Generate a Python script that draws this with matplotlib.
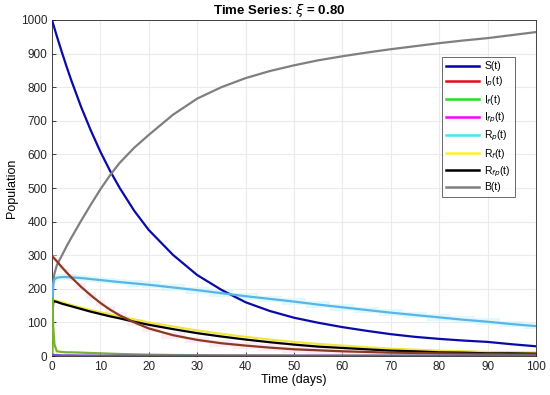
import matplotlib
matplotlib.use("Agg")
import matplotlib.pyplot as plt
from matplotlib.lines import Line2D

plt.rcParams['font.family'] = ['Liberation Sans', 'DejaVu Sans']

t = [0, 0.1, 0.25, 0.5, 1, 2, 3, 4, 6, 8, 10, 12, 14, 17, 20, 25, 30, 35, 40,
     45, 50, 55, 60, 65, 70, 75, 80, 85, 90, 95, 100]

S = [1000, 995, 988, 976, 952, 906, 862, 820, 742, 672, 608, 551, 500, 432, 375,
     301, 241, 197, 160, 134, 114, 99, 86, 75, 65, 57, 51, 46, 42, 35, 29]
I_p = [298, 296, 294, 290, 282, 265, 249, 234, 206, 181, 158, 138, 121, 100, 82,
       62, 48, 38, 31, 25, 20, 17, 14, 12, 10, 9, 8, 7, 6, 5, 5]
I_f = [0, 170, 90, 35, 14, 12, 11, 11, 10, 9, 8, 7, 6, 5, 4,
       3, 2.5, 2, 1.8, 1.5, 1.3, 1.2, 1, 1, 1, 1, 1, 1, 1, 1, 1]
I_fp = [0, 4, 4, 3, 3, 2, 2, 2, 1.5, 1.5, 1, 1, 1, 1, 1,
        1, 1, 1, 1, 1, 1, 1, 1, 1, 1, 1, 1, 1, 1, 1, 1]
R_p = [0, 150, 215, 228, 233, 235, 235, 234, 232, 229, 226, 223, 220, 216, 212,
       204, 196, 187, 178, 170, 162, 153, 145, 137, 129, 122, 115, 108, 102, 95, 89]
R_f = [0, 120, 162, 166, 164, 160, 156, 152, 144, 137, 130, 124, 118, 109, 100,
       88, 76, 66, 57, 49, 42, 36, 31, 26, 22, 19, 16, 14, 12, 11, 10]
R_fp = [0, 120, 160, 163, 161, 156, 152, 148, 140, 132, 125, 118, 112, 102, 93,
        80, 68, 58, 49, 41, 34, 28, 24, 20, 16, 14, 11, 10, 8, 8, 7]
B = [0, 140, 215, 245, 270, 298, 326, 352, 402, 450, 496, 538, 575, 620, 658,
     718, 766, 800, 827, 848, 865, 880, 892, 903, 913, 922, 931, 939, 946, 955, 964]

labels = ['S(t)', 'I$_p$(t)', 'I$_f$(t)', 'I$_{fp}$(t)', 'R$_p$(t)', 'R$_f$(t)',
          'R$_{fp}$(t)', 'B(t)']
legend_colors = ['#0000b0', '#e01010', '#20e020', '#ff00ff', '#40e8f0', '#ffee30',
                 '#000000', '#808080']
line_colors = ['#0a0aa8', '#8a3a1e', '#7ab030', '#7a4ad8', '#5ab4e6', '#f0e640',
               '#000000', '#7f7f7f']

fig = plt.figure(figsize=(5.5, 3.95), dpi=100)
ax = fig.add_axes([0.0945, 0.0987, 0.88, 0.8507])

# light uncertainty bands (blocky)
ax.fill_between(t, [max(v - 10, 0) for v in R_p], [v + 10 for v in R_p],
                step='mid', color='#c8f8fc', alpha=0.6, lw=0, zorder=1)
ax.fill_between(t, [max(v - 10, 0) for v in I_p], [v + 10 for v in I_p],
                step='mid', color='#ffd8ee', alpha=0.5, lw=0, zorder=1)

series = [S, I_p, I_f, I_fp, R_p, R_f, R_fp, B]
order = [0, 7, 4, 5, 6, 1, 2, 3]
for i in order:
    ax.plot(t, series[i], color=line_colors[i], lw=1.6, zorder=3)

ax.set_xlim(0, 100)
ax.set_ylim(0, 1000)
ax.set_xticks(range(0, 101, 10))
ax.set_yticks(range(0, 1001, 100))
ax.grid(True, color='#ebebeb', lw=0.8)
ax.set_axisbelow(True)
for sp in ax.spines.values():
    sp.set_color('#262626')
    sp.set_linewidth(0.6)
ax.tick_params(labelsize=8.5, colors='#262626', length=3, width=0.6, direction='in')
ax.set_xlabel('Time (days)', fontsize=9, labelpad=1)
ax.set_ylabel('Population', fontsize=9, labelpad=2)
ax.set_title(r'Time Series: $\xi$ = 0.80', fontsize=9.5, fontweight='bold', pad=4,
             x=0.469)

handles = [Line2D([0], [0], color=c, lw=1.8) for c in legend_colors]
leg = ax.legend(handles, labels, loc='upper right', bbox_to_anchor=(0.967, 0.905),
                fontsize=7.5, frameon=True, fancybox=False, handlelength=3.2,
                labelspacing=0.35, borderpad=0.4, handletextpad=0.5)
leg.get_frame().set_edgecolor('#262626')
leg.get_frame().set_linewidth(0.6)

fig.savefig('out.png', dpi=100)
